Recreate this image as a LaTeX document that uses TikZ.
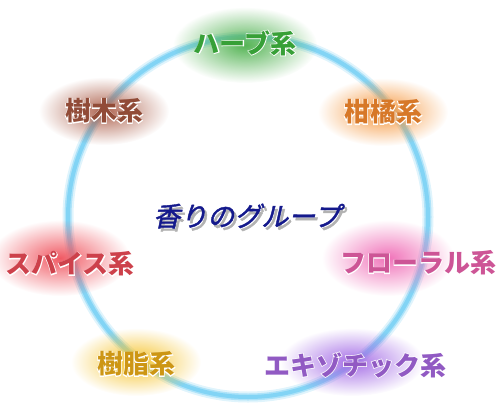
\documentclass[tikz,border=0pt]{standalone}
\usepackage{fontspec}
\usetikzlibrary{fadings}
\newfontfamily\cjk{Noto Sans CJK JP}
\newfontfamily\cjkedge[FakeBold=5]{Noto Sans CJK JP}
\newfontfamily\cjkslant[FakeSlant=0.22,FakeBold=1.5]{Noto Sans CJK JP}
\definecolor{ringc}{RGB}{130,212,245}
\definecolor{herbg}{RGB}{85,180,85}
\definecolor{herbt}{RGB}{55,160,55}
\definecolor{woodg}{RGB}{175,100,80}
\definecolor{woodt}{RGB}{145,75,55}
\definecolor{citg}{RGB}{245,150,60}
\definecolor{citt}{RGB}{215,120,40}
\definecolor{spiceg}{RGB}{240,90,100}
\definecolor{spicet}{RGB}{205,65,75}
\definecolor{florg}{RGB}{240,115,185}
\definecolor{flort}{RGB}{205,85,150}
\definecolor{resing}{RGB}{245,195,45}
\definecolor{resint}{RGB}{205,150,20}
\definecolor{exog}{RGB}{165,110,230}
\definecolor{exot}{RGB}{145,90,195}
\definecolor{titlec}{RGB}{20,25,140}
\tikzfading[name=glow, inner color=transparent!0, outer color=transparent!100]
\begin{document}
\begin{tikzpicture}[x=1pt,y=-1pt,
		lbl/.style={font=\cjk\fontsize{26}{26}\selectfont\bfseries,inner sep=0},
		edge/.style={font=\cjkedge\fontsize{26}{26}\selectfont\bfseries,inner sep=0,text=white}]
				\useasboundingbox (0,0) rectangle (500,415);
				\clip (0,0) rectangle (500,415);
				\coordinate (C) at (248,217);
				\draw[line width=11,ringc!25] (C) circle (180);
				\draw[line width=7,ringc!65] (C) circle (180);
				\draw[line width=4,ringc] (C) circle (180);
				\coordinate (H) at (245,43);
				\coordinate (W) at (104,111);
				\coordinate (Ci) at (383,112);
				\coordinate (S) at (70,264);
				\coordinate (F) at (418,263);
				\coordinate (R) at (136,364);
				\coordinate (E) at (355,365);
				\coordinate (T) at (247,216);
				\fill[herbg,path fading=glow] (245,45) ellipse (72 and 38);
				\fill[woodg,path fading=glow] (104,111) ellipse (65 and 34);
				\fill[citg,path fading=glow] (383,112) ellipse (65 and 34);
				\fill[spiceg,path fading=glow] (60,258) ellipse (70 and 38);
				\fill[florg,path fading=glow] (388,258) ellipse (66 and 38);
				\fill[resing,path fading=glow] (136,362) ellipse (65 and 34);
				\fill[exog,path fading=glow] (352,362) ellipse (72 and 34);
				\node[edge] (herbedge) at (H) {ハーブ系};
				\node[lbl,text=herbt] (herb) at (H) {ハーブ系};
				\node[edge] (woodedge) at (W) {樹木系};
				\node[lbl,text=woodt] (wood) at (W) {樹木系};
				\node[edge] (citrusedge) at (Ci) {柑橘系};
				\node[lbl,text=citt] (citrus) at (Ci) {柑橘系};
				\node[edge] (spiceedge) at (S) {スパイス系};
				\node[lbl,text=spicet] (spice) at (S) {スパイス系};
				\node[edge] (floraledge) at (F) {フローラル系};
				\node[lbl,text=flort] (floral) at (F) {フローラル系};
				\node[edge] (resinedge) at (R) {樹脂系};
				\node[lbl,text=resint] (resin) at (R) {樹脂系};
				\node[edge] (exoticedge) at (E) {エキゾチック系};
				\node[lbl,text=exot] (exotic) at (E) {エキゾチック系};
				\node[font=\cjkslant\fontsize{27}{27}\selectfont,text=black!30,shift={(2.5,3)}] (tshadow) at (T) {香りのグループ};
				\node[font=\cjkslant\fontsize{27}{27}\selectfont,text=titlec] (title) at (T) {香りのグループ};
			\end{tikzpicture}
\end{document}
